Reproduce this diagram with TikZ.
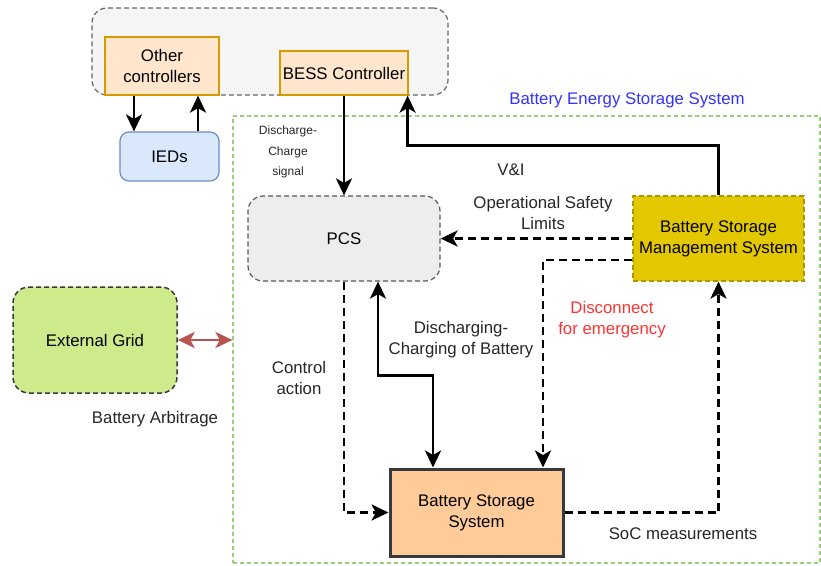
\documentclass[tikz,border=0pt]{standalone}
\usepackage{fontspec}
\setmainfont{Liberation Sans}
\usetikzlibrary{arrows.meta}

\definecolor{ctrlfill}{HTML}{FFE6CC}
\definecolor{ctrldraw}{HTML}{D79B00}
\definecolor{iedfill}{HTML}{DAE8FC}
\definecolor{ieddraw}{HTML}{6C8EBF}
\definecolor{bmsfill}{HTML}{E3C800}
\definecolor{bmsdraw}{HTML}{B09500}
\definecolor{gridfill}{HTML}{CDEB8B}
\definecolor{bssfill}{HTML}{FFCC99}
\definecolor{darkline}{HTML}{36393D}
\definecolor{areagreen}{HTML}{97D077}
\definecolor{gridarrow}{HTML}{B85450}
\definecolor{areablue}{HTML}{3333FF}
\definecolor{alertred}{HTML}{FF3333}

\begin{document}
\begin{tikzpicture}[x=1pt,y=-1pt,
    font=\fontsize{16.8}{21}\selectfont,
    >={Stealth[length=17pt,width=16pt,inset=4.5pt]},
    box/.style={align=center,inner sep=0pt},
    dashline/.style={dash pattern=on 8pt off 5pt},
    arr/.style={->,line width=2.9pt},
    darr/.style={arr,dashline},
    lbl/.style={align=center,text=black!85}]
    \useasboundingbox (0,0) rectangle (821,565);

    % groups
    \node[box,draw=areagreen,line width=1.2pt,dash pattern=on 4pt off 3pt,minimum width=587pt,minimum height=447pt](bess)at(526.5,339.5){};
    \node[text=areablue]at(627,100){Battery Energy Storage System};
    \node[box,draw=black!60,fill=black!4,line width=1.2pt,dash pattern=on 5pt off 3pt,rounded corners=15pt,minimum width=356pt,minimum height=87pt](grp)at(270,51.5){};

    % blocks
    \node[box,draw=ctrldraw,fill=ctrlfill,line width=1.2pt,minimum width=114pt,minimum height=58pt](other)at(162,66){Other\\controllers};
    \node[box,draw=ctrldraw,fill=ctrlfill,line width=1.2pt,minimum width=128pt,minimum height=44pt](bessc)at(344,73){BESS Controller};
    \node[box,draw=ieddraw,fill=iedfill,line width=1.2pt,rounded corners=9pt,minimum width=99pt,minimum height=49pt](ieds)at(169.5,156.5){IEDs};
    \node[box,draw=black!65,fill=black!7,line width=1.2pt,dash pattern=on 5pt off 3pt,rounded corners=15pt,minimum width=192pt,minimum height=85pt](pcs)at(344,238.5){PCS};
    \node[box,draw=bmsdraw,fill=bmsfill,line width=1.2pt,dash pattern=on 5pt off 3pt,minimum width=171pt,minimum height=85pt](bsms)at(718.5,238.5){Battery Storage\\Management System};
    \node[box,draw=darkline,fill=gridfill,line width=1.5pt,dash pattern=on 5pt off 3pt,rounded corners=16pt,minimum width=164pt,minimum height=106pt](grid)at(95,340){External Grid};
    \node[box,draw=darkline,fill=bssfill,line width=3pt,minimum width=173pt,minimum height=87pt](bss)at(476.5,512.5){Battery Storage\\System};

    % connectors
    \draw[arr]([xshift=-28pt]other.south)--([xshift=-28pt]other.south |- ieds.north);
    \draw[arr]([xshift=28.5pt]ieds.north)--([xshift=28.5pt]ieds.north |- other.south);
    \draw[arr](bessc.south)--(pcs.north);
    \draw[arr](bsms.north)|-([xshift=-1pt,yshift=-50pt]bessc.south east)--([xshift=-1pt]bessc.south east);
    \draw[darr](bsms.west)--(pcs.east);
    \draw[darr]([yshift=-21.5pt]bsms.west)-|([xshift=66.5pt]bss.north);
    \draw[darr](pcs.south)|-(bss.west);
    \draw[arr,<->]([xshift=34pt]pcs.south)|-([xshift=-43.5pt,yshift=92pt]bss.north)--([xshift=-43.5pt]bss.north);
    \draw[darr](bss.east)-|(bsms.south);
    \draw[<->,draw=gridarrow,fill=gridarrow,line width=2.6pt](grid.east)--(grid.east -| bess.west);

    % labels
    \node[lbl,font=\fontsize{12}{20.5}\selectfont]at(288,152){Discharge-\\Charge\\signal};
    \node[lbl]at(511,170){V\&I};
    \node[lbl]at(543,213){Operational Safety\\Limits};
    \node[align=center,text=alertred]at(612,320){Disconnect\\for emergency};
    \node[lbl]at(461,340){Discharging-\\Charging of Battery};
    \node[lbl]at(299,378){Control\\action};
    \node[lbl]at(155,419){Battery Arbitrage};
    \node[lbl]at(683,534){SoC measurements};
\end{tikzpicture}
\end{document}
